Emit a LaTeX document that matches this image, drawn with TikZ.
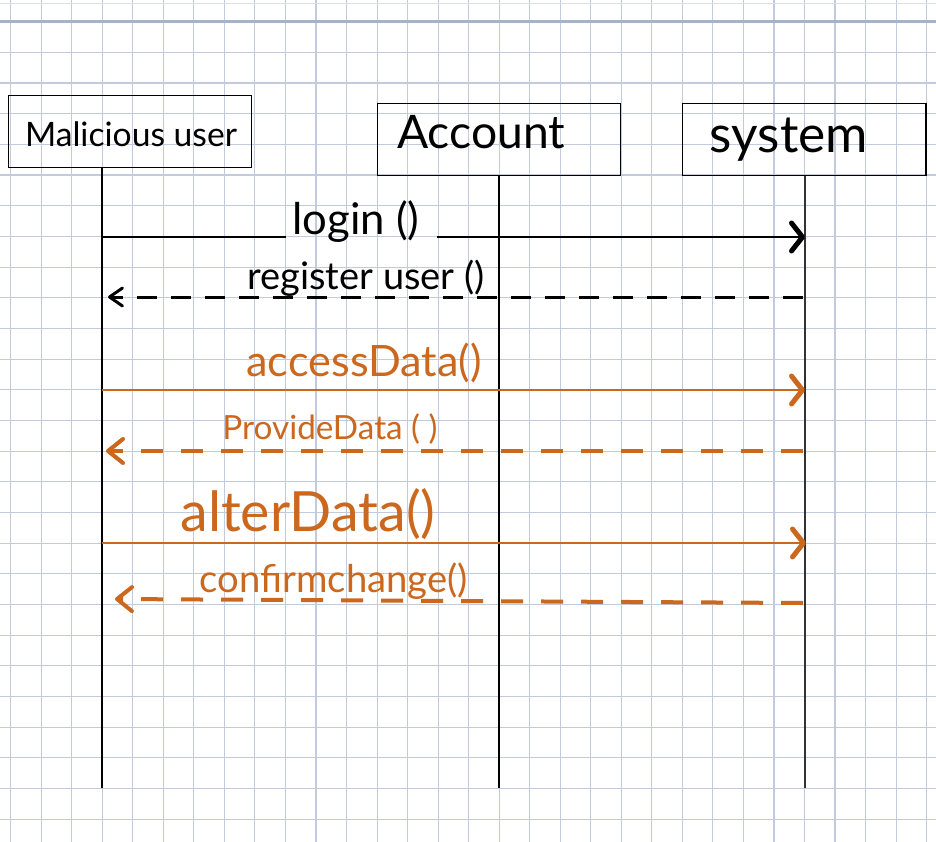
\documentclass[tikz,border=0pt]{standalone}
\usepackage{fontspec}
\setmainfont{Lato}
\usetikzlibrary{arrows.meta}
\definecolor{gridc}{RGB}{194,203,222}
\definecolor{topc}{RGB}{165,178,204}
\definecolor{ora}{RGB}{203,104,30}
\definecolor{lifegray}{RGB}{50,50,50}
\newcommand{\fitw}[2]{\resizebox{#1pt}{!}{#2}}
\tikzset{
  actor/.style={draw=black, line width=1.3pt, inner sep=0pt, fill=none},
  lifeline/.style={line width=2pt},
  callmsg/.style={line width=1.8pt, -{Straight Barb[length=11pt,width=28pt,line width=5pt,round]}},
  retmsg/.style={line width=3pt, dash pattern=on 20pt off 14pt, -{Straight Barb[length=13pt,width=18pt,line width=3pt,round]}},
  retmsgo/.style={line width=4pt, dash pattern=on 22pt off 18pt, -{Straight Barb[length=15pt,width=24pt,line width=4pt,round]}},
  lbl/.style={inner sep=0pt, anchor=center},
  gridline/.style={gridc, line width=1.1pt},
}
\begin{document}
\begin{tikzpicture}[x=1pt,y=-1pt]
\useasboundingbox (0,0) rectangle (936,842);
\fill[white] (0,0) rectangle (936,842);
% grid
\foreach \gi in {0,1,...,30} {
  \pgfmathsetmacro{\gxx}{10.7+30.53*\gi}
  \draw[gridline] (\gxx,0) -- (\gxx,842);
}
\foreach \gj in {0,1,...,26} {
  \pgfmathsetmacro{\gyy}{21.7+30.67*\gj}
  \draw[gridline] (0,\gyy) -- (936,\gyy);
}
\draw[gridc!60, line width=1pt] (0,4) -- (936,4);
\draw[topc, line width=2.6pt] (0,21.7) -- (936,21.7);

% actor boxes
\node[actor, minimum width=243.4pt, minimum height=72pt] (mu) at (130,131.7) {};
\node[actor, minimum width=243.4pt, minimum height=72.4pt] (ac) at (499,139.5) {};
\node[actor, minimum width=243.4pt, minimum height=72.4pt] (sy) at (804.3,139.5) {};
\node[lbl] (mut) at (131,134) {\fitw{212}{Malicious user}};
\node[lbl] (act) at (481,132) {\fitw{168}{Account}};
\node[lbl] (syt) at (789,140) {\fitw{158}{system}};

% lifelines
\coordinate (muend) at (102.3,788);
\coordinate (acend) at (499,788);
\coordinate (syend) at (805,788);
\draw[lifeline, black] (mu.south -| muend) -- (muend);
\draw[lifeline, black, line width=1.5pt] (ac.south -| acend) -- (acend);
\draw[lifeline, lifegray, line width=2.3pt] (sy.south -| syend) -- (syend);

% message anchor points
\coordinate (mu1) at (102.3,237);
\coordinate (gapL) at (285.7,237);
\coordinate (gapR) at (437.3,237);
\coordinate (sy1) at (805,237);
\coordinate (sy2) at (803,297);
\coordinate (mu2) at (108,297);
\coordinate (mu3) at (102.3,390);
\coordinate (sy3) at (805,390);
\coordinate (sy4) at (803,451);
\coordinate (mu4) at (106,451);
\coordinate (mu5) at (102.3,543);
\coordinate (sy5) at (806,543);
\coordinate (sy6) at (803,603);
\coordinate (mu6) at (115,599);

% login
\draw[line width=1.8pt] (mu1) -- (gapL);
\draw[callmsg] (gapR) -- (sy1);
\node[lbl] (l1) at (356,222) {\fitw{127}{login ()}};
% register user
\draw[retmsg] (sy2) -- (mu2);
\node[lbl] (l2) at (366,278) {\fitw{237}{register user ()}};
% accessData
\draw[callmsg, ora] (mu3) -- (sy3);
\node[lbl, text=ora] (l3) at (364,363) {\fitw{235}{accessData()}};
% ProvideData
\draw[retmsgo, ora] (sy4) -- (mu4);
\node[lbl, text=ora] (l4) at (330,429) {\fitw{215}{ProvideData ( )}};
% alterData
\draw[callmsg, ora] (mu5) -- (sy5);
\node[lbl, text=ora] (l5) at (308,514) {\fitw{255}{alterData()}};
% confirmchange
\draw[retmsgo, ora] (sy6) -- (mu6);
\node[lbl, text=ora] (l6) at (334,581) {\fitw{268}{confirmchange()}};
\end{tikzpicture}
\end{document}
